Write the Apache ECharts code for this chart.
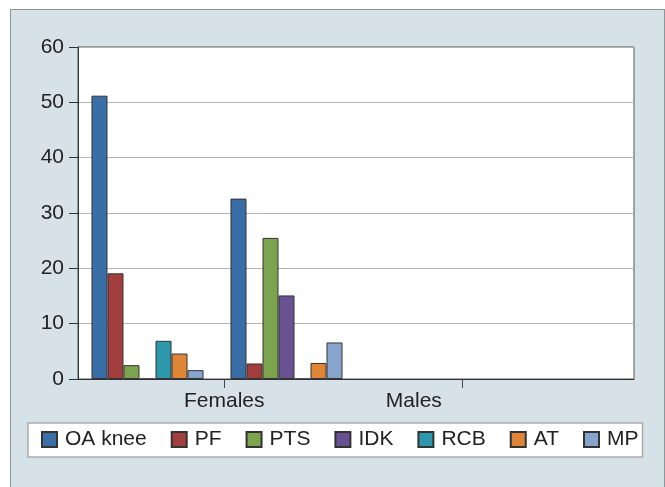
<!DOCTYPE html>
<html>
<head>
<meta charset="utf-8">
<script src="https://cdn.jsdelivr.net/npm/echarts@6/dist/echarts.min.js"></script>
<style>
html,body{margin:0;padding:0;background:#fff;}
#panel{position:absolute;left:10px;top:9px;width:653px;height:490px;background:#d7e1e8;border:1px solid #8f9499;}
#chart{position:absolute;left:0;top:0;width:665px;height:487px;}
</style>
</head>
<body>
<div id="panel"></div>
<div id="chart"></div>
<script>
const categories = ['Females', 'Males'];
const seriesNames = ['OA knee', 'PF', 'PTS', 'IDK', 'RCB', 'AT', 'MP'];
const oaKnee = [51.2, 32.6];
const pf = [19.1, 2.8];
const pts = [2.5, 25.5];
const idk = [0, 15.1];
const rcb = [6.9, 0];
const at = [4.6, 2.9];
const mp = [1.6, 6.6];
const yTicks = [0, 10, 20, 30, 40, 50, 60];

const values = [oaKnee, pf, pts, idk, rcb, at, mp];
const colors = ['#3a6ea7', '#a33e3e', '#7ca34e', '#6a5292', '#2d97ab', '#e08537', '#87a4cd'];
const font = 'Liberation Sans, Arial, sans-serif';

const chart = echarts.init(document.getElementById('chart'), null, {renderer: 'canvas'});
chart.setOption({
  animation: false,
  backgroundColor: 'transparent',
  textStyle: {fontFamily: font},
  grid: {left: 78, top: 47, width: 556, height: 332, show: true, backgroundColor: '#ffffff', borderColor: '#555', borderWidth: 1},
  legend: {
    left: 28, top: 423,
    padding: [6, 4, 7, 13],
    backgroundColor: '#ffffff', borderColor: '#a9acae', borderWidth: 1.5,
    itemWidth: 15, itemHeight: 15, itemGap: 24,
    icon: 'rect',
    textStyle: {fontSize: 21, color: '#222', fontFamily: font, padding: [0, 0, 0, 3]},
    data: seriesNames
  },
  xAxis: [
    {
      type: 'category', data: categories, max: 3,
      axisLine: {show: true, lineStyle: {color: '#333', width: 1}},
      axisTick: {show: false}, axisLabel: {show: false}, splitLine: {show: false}
    },
    {
      type: 'value', min: 0, max: 100, position: 'bottom',
      axisLine: {show: false},
      splitLine: {show: false},
      axisTick: {show: true, inside: false, length: 9, lineStyle: {color: '#444'}, customValues: [26.3, 69.1]},
      axisLabel: {
        show: true, margin: 12, fontSize: 21, color: '#222', fontFamily: font,
        customValues: [26.3, 60.4],
        formatter: function (v) { return v < 50 ? categories[0] : categories[1]; }
      }
    }
  ],
  yAxis: {
    type: 'value', min: yTicks[0], max: yTicks[yTicks.length - 1], interval: 10,
    axisLine: {show: true, lineStyle: {color: '#333', width: 1}},
    axisTick: {show: true, inside: false, length: 9, lineStyle: {color: '#333'}},
    axisLabel: {fontSize: 21, color: '#222', margin: 14, fontFamily: font},
    splitLine: {show: true, lineStyle: {color: '#b4b4b4', width: 1.2}}
  },
  series: seriesNames.map(function (name, i) {
    return {
      name: name, type: 'bar', xAxisIndex: 0,
      data: values[i],
      barGap: '0%', barCategoryGap: '19.4%',
      itemStyle: {color: colors[i], borderColor: '#333', borderWidth: 1}
    };
  })
});
</script>
</body>
</html>
